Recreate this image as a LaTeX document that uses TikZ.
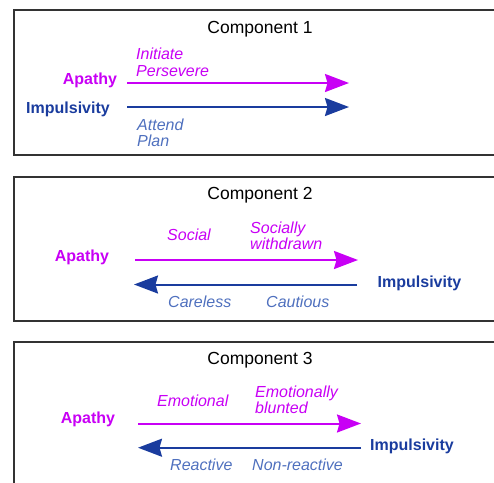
\documentclass[tikz,border=0pt]{standalone}
\usepackage{fontspec}
\setmainfont{Liberation Sans}
\usetikzlibrary{arrows.meta}
\definecolor{apacol}{HTML}{C800F5}
\definecolor{impcol}{HTML}{1A3C9E}
\definecolor{itemcol}{HTML}{4F70BE}
\tikzset{
  panel/.style={draw=black!80,line width=1.5pt},
  title/.style={font=\fontsize{17.5}{20}\selectfont,anchor=base,inner sep=0pt},
  apalab/.style={font=\fontsize{16}{18}\selectfont\bfseries,text=apacol,inner sep=0pt},
  implab/.style={font=\fontsize{16}{18}\selectfont\bfseries,text=impcol,inner sep=0pt},
  apaitem/.style={font=\fontsize{16}{18}\selectfont\itshape,text=apacol,anchor=base west,inner sep=0pt},
  impitem/.style={font=\fontsize{16}{18}\selectfont\itshape,text=itemcol,anchor=base west,inner sep=0pt},
  apaarrow/.style={draw=apacol,line width=2pt,-{Stealth[length=24pt,width=18pt,inset=2.5pt]}},
  imparrow/.style={draw=impcol,line width=2pt,-{Stealth[length=24pt,width=18pt,inset=2.5pt]}},
}
\begin{document}
\begin{tikzpicture}[x=1pt,y=-1pt]
  \useasboundingbox (0,0) rectangle (494,482);
  \clip (0,0) rectangle (494,482);
  % Component 1: beide Pfeile nach rechts
  \draw[panel] (14,10) rectangle (510,155);
  \node[title] (t1) at (260,33){Component 1};
  \node[apalab] (apa1) at (90,80){Apathy};
  \node[implab] (imp1) at (68,109){Impulsivity};
  \coordinate (a1s) at (127,83); \coordinate (a1e) at (349,83);
  \coordinate (i1s) at (127,107); \coordinate (i1e) at (349,107);
  \draw[apaarrow] (a1s) -- (a1e);
  \draw[imparrow] (i1s) -- (i1e);
  \node[apaitem] (ini) at (136,59){Initiate};
  \node[apaitem] (per) at (136,76){Persevere};
  \node[impitem] (att) at (137,130){Attend};
  \node[impitem] (pla) at (137,146){Plan};
  % Component 2: gegenläufig
  \draw[panel] (14,177) rectangle (510,321);
  \node[title] (t2) at (260,199){Component 2};
  \node[apalab] (apa2) at (82,257){Apathy};
  \node[implab] (imp2) at (419.5,283){Impulsivity};
  \coordinate (a2s) at (135,260); \coordinate (a2e) at (358,260);
  \coordinate (i2s) at (357,284.5); \coordinate (i2e) at (134,284.5);
  \draw[apaarrow] (a2s) -- (a2e);
  \draw[imparrow] (i2s) -- (i2e);
  \node[apaitem] (soc) at (167,240.7){Social};
  \node[apaitem] (socw) at (250,233.3){Socially};
  \node[apaitem] (wit) at (250,249.3){withdrawn};
  \node[impitem] (car) at (168,307.3){Careless};
  \node[impitem] (cau) at (266,307.3){Cautious};
  % Component 3: gegenläufig
  \draw[panel] (14,342) rectangle (510,520);
  \node[title] (t3) at (260,364.3){Component 3};
  \node[apalab] (apa3) at (88,419){Apathy};
  \node[implab] (imp3) at (412,446){Impulsivity};
  \coordinate (a3s) at (138,423.5); \coordinate (a3e) at (361,423.5);
  \coordinate (i3s) at (361,447.7); \coordinate (i3e) at (138,447.7);
  \draw[apaarrow] (a3s) -- (a3e);
  \draw[imparrow] (i3s) -- (i3e);
  \node[apaitem] (emo) at (157,406){Emotional};
  \node[apaitem] (emob) at (255,397.7){Emotionally};
  \node[apaitem] (blu) at (255,413.3){blunted};
  \node[impitem] (rea) at (170,470){Reactive};
  \node[impitem] (nre) at (252,470){Non-reactive};
\end{tikzpicture}
\end{document}
